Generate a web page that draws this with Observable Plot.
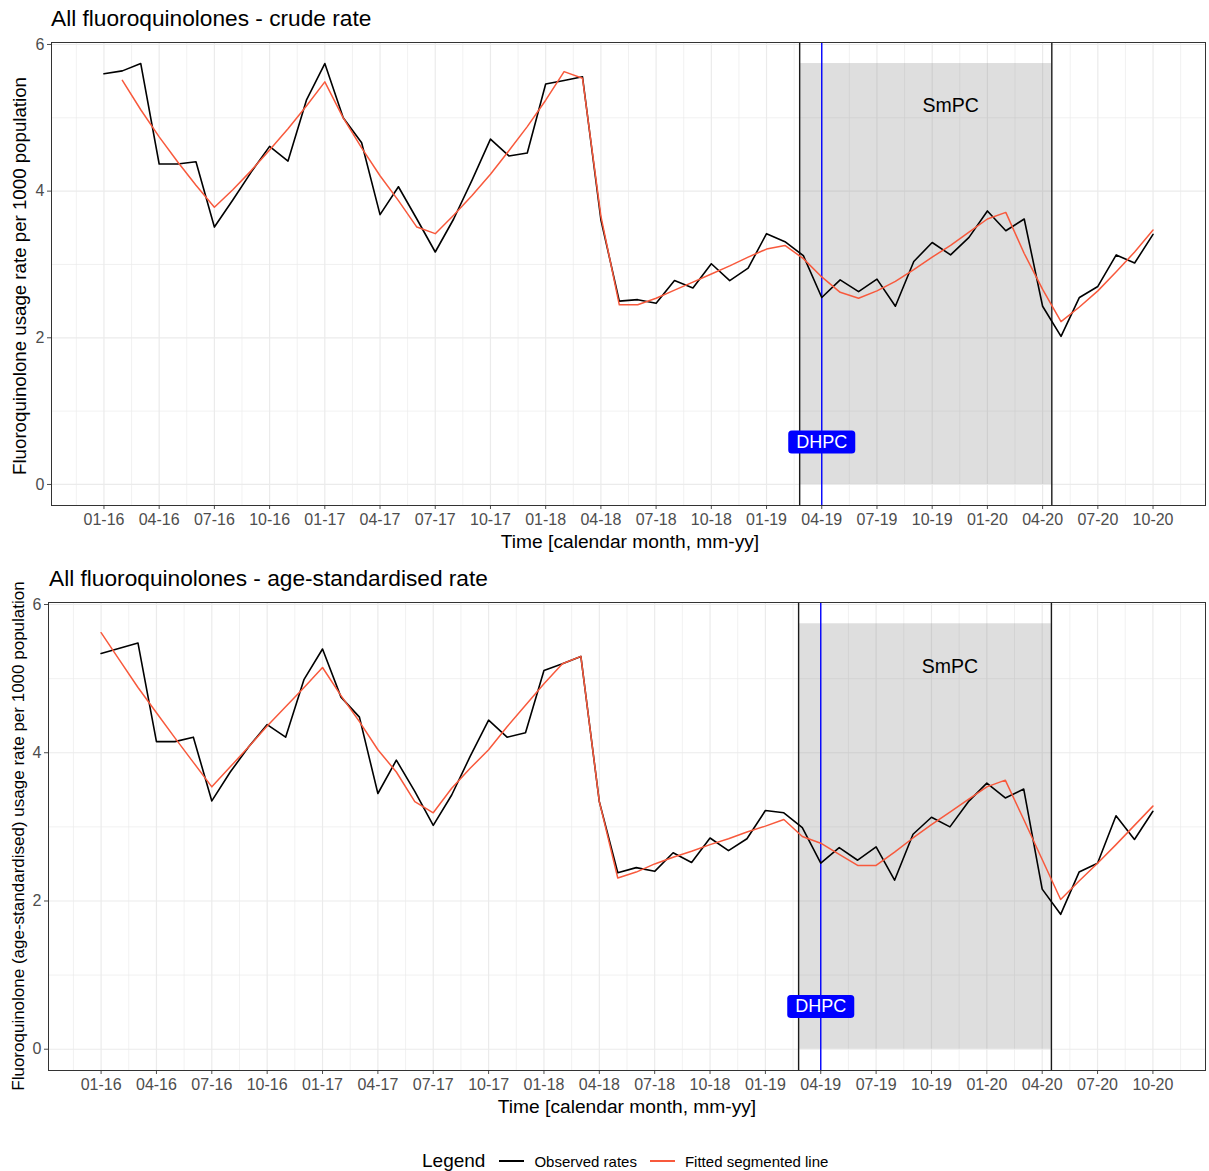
<!DOCTYPE html>
<html>
<head>
<meta charset="utf-8">
<script src="https://cdn.jsdelivr.net/npm/d3@7"></script>
<script src="https://cdn.jsdelivr.net/npm/@observablehq/plot@0.6"></script>
<style>
  body { margin: 0; background: #fff; font-family: "Liberation Sans", Arial, sans-serif; }
  #page { position: relative; width: 1209px; height: 1171px; overflow: hidden; background: #fff; }
  .title { position: absolute; z-index: 2; font-size: 22.7px; color: #000; white-space: nowrap; line-height: 1; }
  .xtitle { position: absolute; z-index: 2; font-size: 19.2px; color: #000; white-space: nowrap; line-height: 1; transform: translate(-50%, -50%); }
  .ytitle { position: absolute; z-index: 2; font-size: 17px; color: #000; white-space: nowrap; line-height: 1; transform: translate(-50%, -50%) rotate(-90deg); }
  .panel { position: absolute; left: 0; z-index: 1; }
  #legend { position: absolute; z-index: 2; top: 1150px; left: 422px; height: 22px; display: flex; align-items: center; white-space: nowrap; }
  #legend .lt { font-size: 19px; margin-right: 14px; }
  #legend .sw { display: block; width: 25px; height: 2px; margin-right: 10px; }
  #legend .it { font-size: 15px; margin-right: 13px; }
</style>
</head>
<body>
<div id="page">
  <div class="title" style="left:51px;top:7px;">All fluoroquinolones - crude rate</div>
  <div class="ytitle" style="left:20px;top:276px;font-size:18.7px;">Fluoroquinolone usage rate per 1000 population</div>
  <div class="xtitle" style="left:630px;top:542px;">Time [calendar month, mm-yy]</div>
  <div id="p1" class="panel" style="top:34px;"></div>

  <div class="title" style="left:49px;top:567px;">All fluoroquinolones - age-standardised rate</div>
  <div class="ytitle" style="left:18px;top:836px;">Fluoroquinolone (age-standardised) usage rate per 1000 population</div>
  <div class="xtitle" style="left:627px;top:1107px;">Time [calendar month, mm-yy]</div>
  <div id="p2" class="panel" style="top:594px;"></div>

  <div id="legend">
    <span class="lt">Legend</span>
    <span class="sw" style="background:#000;"></span><span class="it">Observed rates</span>
    <span class="sw" style="background:#f8593c;"></span><span class="it">Fitted segmented line</span>
  </div>
</div>
<script>
// ---------- data ----------
const months = [
  "01-16","02-16","03-16","04-16","05-16","06-16","07-16","08-16","09-16","10-16","11-16","12-16",
  "01-17","02-17","03-17","04-17","05-17","06-17","07-17","08-17","09-17","10-17","11-17","12-17",
  "01-18","02-18","03-18","04-18","05-18","06-18","07-18","08-18","09-18","10-18","11-18","12-18",
  "01-19","02-19","03-19","04-19","05-19","06-19","07-19","08-19","09-19","10-19","11-19","12-19",
  "01-20","02-20","03-20","04-20","05-20","06-20","07-20","08-20","09-20","10-20"
];
const tickLabels = ["01-16","04-16","07-16","10-16","01-17","04-17","07-17","10-17","01-18","04-18",
  "07-18","10-18","01-19","04-19","07-19","10-19","01-20","04-20","07-20","10-20"];

const crudeObserved = [
  5.60, 5.64, 5.74, 4.37, 4.37, 4.40, 3.51, 3.88, 4.26, 4.61, 4.41, 5.24,
  5.74, 5.00, 4.66, 3.68, 4.06, 3.62, 3.17, 3.62, 4.15, 4.71, 4.48, 4.52,
  5.46, 5.51, 5.56, 3.61, 2.50, 2.52, 2.47, 2.78, 2.68, 3.01, 2.78, 2.95,
  3.42, 3.31, 3.12, 2.55, 2.79, 2.63, 2.80, 2.43, 3.04, 3.30, 3.13, 3.37,
  3.73, 3.46, 3.62, 2.43, 2.02, 2.55, 2.70, 3.13, 3.02, 3.41
];
const crudeFitted = [
  null, 5.51, 5.11, 4.74, 4.40, 4.08, 3.78, 4.02, 4.28, 4.56, 4.85, 5.16,
  5.49, 5.00, 4.59, 4.21, 3.87, 3.51, 3.42, 3.67, 3.94, 4.23, 4.55, 4.88,
  5.24, 5.63, 5.54, 3.66, 2.45, 2.45, 2.54, 2.65, 2.76, 2.87, 2.98, 3.10,
  3.21, 3.26, 3.08, 2.83, 2.62, 2.54, 2.64, 2.77, 2.93, 3.10, 3.26, 3.44,
  3.62, 3.71, 3.15, 2.66, 2.22, 2.42, 2.64, 2.90, 3.17, 3.47
];
const stdObserved = [
  5.34, 5.41, 5.48, 4.15, 4.15, 4.21, 3.35, 3.74, 4.08, 4.38, 4.21, 4.99,
  5.40, 4.75, 4.48, 3.45, 3.90, 3.48, 3.02, 3.43, 3.95, 4.44, 4.21, 4.27,
  5.11, 5.20, 5.30, 3.34, 2.38, 2.45, 2.40, 2.65, 2.52, 2.85, 2.68, 2.84,
  3.22, 3.19, 2.99, 2.51, 2.72, 2.55, 2.73, 2.28, 2.90, 3.13, 3.00, 3.34,
  3.59, 3.39, 3.51, 2.16, 1.82, 2.39, 2.51, 3.15, 2.83, 3.21
];
const stdFitted = [
  5.62, 5.25, 4.88, 4.54, 4.20, 3.87, 3.54, 3.81, 4.08, 4.36, 4.62, 4.88,
  5.15, 4.77, 4.42, 4.04, 3.74, 3.34, 3.19, 3.52, 3.79, 4.04, 4.35, 4.64,
  4.93, 5.20, 5.30, 3.34, 2.31, 2.39, 2.50, 2.59, 2.67, 2.76, 2.84, 2.93,
  3.01, 3.10, 2.87, 2.78, 2.63, 2.48, 2.48, 2.66, 2.85, 3.03, 3.20, 3.37,
  3.54, 3.63, 3.10, 2.56, 2.02, 2.27, 2.51, 2.76, 3.02, 3.28
];
// events (month index, fractional = within the month)
const smpcStart = 37.8;
const smpcEnd = 51.5;
const dhpcMonth = "04-19";
const smpcLabelMonth = 46;
const yTicks = [0, 2, 4, 6];

// ---------- drawing ----------
const ns = "http://www.w3.org/2000/svg";
const maxObs = d3.max(crudeObserved);
const tickIdx = tickLabels.map(l => months.indexOf(l));
const minorX = tickIdx.map(i => i - 1.5).concat([tickIdx[tickIdx.length - 1] + 1.5]);
const minorY = [1, 3, 5];
const dhpcX = months.indexOf(dhpcMonth);

function panel(el, observed, fitted, height, frameHeight, marginLeft) {
  const data = months.map((m, i) => ({i, month: m, obs: observed[i], fit: fitted[i]}));
  const svg = Plot.plot({
    width: 1209, height, marginLeft, marginRight: 4, marginTop: 8, marginBottom: height - 8 - frameHeight,
    style: {fontFamily: "Liberation Sans, Arial, sans-serif", fontSize: "16px", color: "#4d4d4d", background: "transparent", overflow: "visible"},
    x: {domain: [-2.85, 59.85], ticks: tickIdx, tickFormat: i => months[i], label: null, tickSize: 4, tickPadding: 4},
    y: {domain: [-0.287, 6.027], ticks: yTicks, label: null, tickSize: 4, tickPadding: 3, tickFormat: d3.format("d")},
    marks: [
      Plot.ruleX(minorX, {stroke: "#ebebeb", strokeWidth: 0.7}),
      Plot.ruleY(minorY, {stroke: "#ebebeb", strokeWidth: 0.7}),
      Plot.ruleX(tickIdx, {stroke: "#ebebeb", strokeWidth: 1.2}),
      Plot.ruleY(yTicks, {stroke: "#ebebeb", strokeWidth: 1.2}),
      Plot.rect([{x1: smpcStart, x2: smpcEnd, y1: 0, y2: maxObs}],
        {x1: "x1", x2: "x2", y1: "y1", y2: "y2", fill: "#7f7f7f", fillOpacity: 0.26}),
      Plot.ruleX([smpcStart, smpcEnd], {stroke: "#1a1a1a", strokeWidth: 1.4}),
      Plot.ruleX([dhpcX], {stroke: "#0000ff", strokeWidth: 1.4}),
      Plot.line(data, {x: "i", y: "obs", stroke: "#000", strokeWidth: 1.6}),
      Plot.line(data.filter(d => d.fit != null), {x: "i", y: "fit", stroke: "#f8593c", strokeWidth: 1.5}),
      Plot.text([{x: smpcLabelMonth, y: 0.9 * maxObs, t: "SmPC"}],
        {x: "x", y: "y", text: "t", fontSize: 19.5, fill: "#000"}),
      Plot.text([{x: dhpcX, y: 0.1 * maxObs, t: "DHPC"}],
        {x: "x", y: "y", text: "t", fontSize: 18, fill: "#fff"}),
      Plot.frame({stroke: "#333", strokeWidth: 1})
    ]
  });
  el.appendChild(svg);
  svg.querySelectorAll("text").forEach(t => {
    if (t.textContent === "DHPC") {
      const b = t.getBBox();
      const r = document.createElementNS(ns, "rect");
      r.setAttribute("x", b.x - 8);
      r.setAttribute("y", b.y - 1.5);
      r.setAttribute("width", b.width + 16);
      r.setAttribute("height", b.height + 3);
      r.setAttribute("rx", 3.5);
      r.setAttribute("fill", "#0000ff");
      if (t.getAttribute("transform")) r.setAttribute("transform", t.getAttribute("transform"));
      t.parentNode.insertBefore(r, t);
    }
  });
}

panel(document.getElementById("p1"), crudeObserved, crudeFitted, 521, 463, 51);
panel(document.getElementById("p2"), stdObserved, stdFitted, 526, 468, 48);
</script>
</body>
</html>
